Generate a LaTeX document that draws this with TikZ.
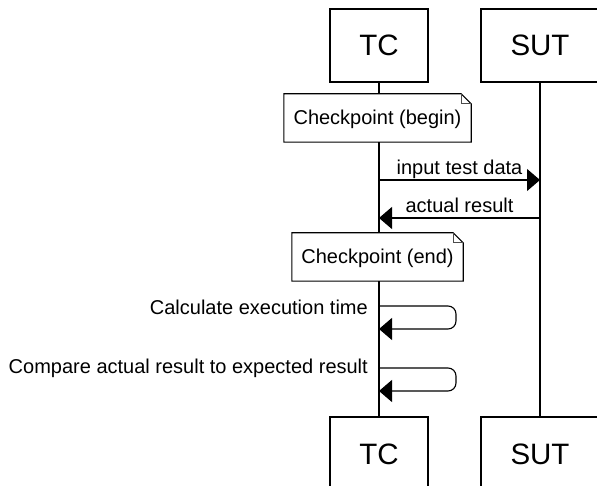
\documentclass[tikz,border=0pt]{standalone}
\usepackage{fontspec}
\setmainfont{Liberation Sans}
\usetikzlibrary{arrows.meta}

% outline of a note with a dog-eared top right corner
\newcommand\dogear[1]{%
  \fill[white] (#1.south west) rectangle (#1.north east);
  \draw[noteline] (#1.south west) -- (#1.north west)
    -- ([xshift=-10pt]#1.north east) -- ([yshift=-10pt]#1.north east)
    -- (#1.south east) -- cycle;
  \draw[foldline] ([xshift=-10pt]#1.north east) |- ([yshift=-10pt]#1.north east);
}

\begin{document}
\begin{tikzpicture}[x=1pt, y=-1pt,
  font=\fontsize{20}{24}\selectfont,
  lw/.style={line width=1.1pt, draw=black},
  actor/.style={lw, fill=white, minimum height=73pt, inner sep=0pt,
    font=\fontsize{29.5}{34}\selectfont, text height=21pt, text depth=0pt},
  note/.style={minimum height=48pt, inner sep=0pt, text height=14pt, text depth=0pt},
  noteline/.style={lw},
  foldline/.style={line width=0.6pt, draw=black!70},
  life/.style={lw},
  msg/.style={lw, -{Triangle[length=13pt, width=22pt]}},
  lbl/.style={anchor=base, yshift=5pt, inner sep=0pt},
  selflbl/.style={anchor=base east, inner sep=0pt}]

\useasboundingbox (0,0) rectangle (597,486);

% participants, top and bottom
\node[actor, minimum width=98pt]  (tcTop)  at (379,45.5)  {TC};
\node[actor, minimum width=118pt] (sutTop) at (540,45.5)  {SUT};
\node[actor, minimum width=98pt]  (tcBot)  at (379,453.5) {TC};
\node[actor, minimum width=118pt] (sutBot) at (540,453.5) {SUT};

% lifelines
\draw[life] (tcTop) -- (tcBot);
\draw[life] (sutTop) -- (sutBot);

% checkpoints
\node[note, minimum width=187pt] (noteBegin) at (377.5,118) {};
\dogear{noteBegin}
\node[note, minimum width=187pt] at (noteBegin) {Checkpoint (begin)};

\node[note, minimum width=171pt] (noteEnd) at (377.5,257) {};
\dogear{noteEnd}
\node[note, minimum width=171pt] at (noteEnd) {Checkpoint (end)};

% messages between TC and SUT
\coordinate (sendA) at (tcTop.south |- 0,180);
\coordinate (sendB) at (sutTop.south |- 0,180);
\draw[msg] (sendA) -- node[lbl] {input test data} (sendB);

\coordinate (replyA) at (sutTop.south |- 0,218);
\coordinate (replyB) at (tcTop.south |- 0,218);
\draw[msg] (replyA) -- node[lbl] {actual result} (replyB);

% self messages on TC
\coordinate (calcA) at (tcTop.south |- 0,306);
\coordinate (calcB) at (tcTop.south |- 0,329);
\draw[msg, rounded corners=8pt] (calcA) -- (456,306) -- (456,329) -- (calcB);
\node[selflbl] (calcLbl) at (368,315) {Calculate execution time};

\coordinate (cmpA) at (tcTop.south |- 0,368);
\coordinate (cmpB) at (tcTop.south |- 0,391);
\draw[msg, rounded corners=8pt] (cmpA) -- (456,368) -- (456,391) -- (cmpB);
\node[selflbl] (cmpLbl) at (368,373) {Compare actual result to expected result};

\end{tikzpicture}
\end{document}
